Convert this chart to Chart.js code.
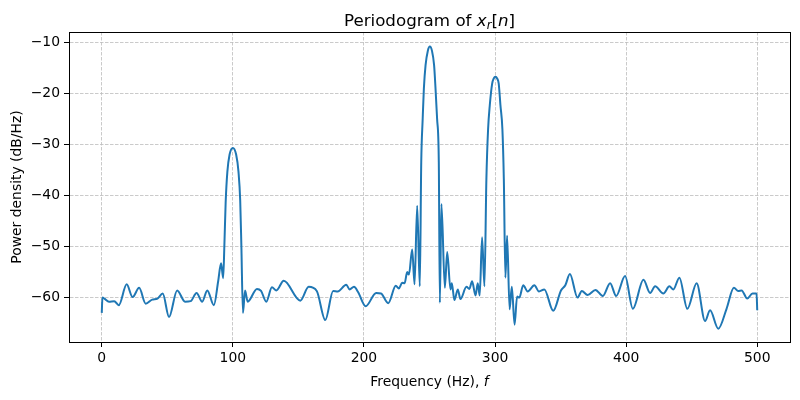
<!DOCTYPE html>
<html>
<head>
<meta charset="utf-8">
<script src="https://cdn.jsdelivr.net/npm/chart.js@4"></script>
<style>
  html, body { margin: 0; padding: 0; background: #fff; }
  #wrap { width: 800px; height: 400px; }
</style>
</head>
<body>
<div id="wrap"><canvas id="psdChart" width="800" height="400"></canvas></div>
<script>
// frequency (Hz) and power density (dB/Hz)
var freqs = [0, 0.5, 2, 5.5, 9.5, 13, 19, 23.5, 28.5, 33.5, 38.5, 42.5, 46.5, 51.3, 57.5, 63.5, 67.8, 72.3, 76.6, 80.5,
    85.5, 88.8, 91.0, 92.6, 93.5, 94.5, 95.8, 97.5, 100, 102.5, 104.3, 105.6, 106.5, 107.7, 109.3, 111.3, 118.4, 121.5, 125.5, 129.8,
    133.2, 138.8, 151.5, 157.8, 164, 170.5, 176.5, 180, 186.5, 189.1, 192.4, 195.5, 201.3, 209.3, 213, 218.5, 224.3, 226.6, 229.2, 231,
    233, 234.3, 236.8, 238.6, 240.6, 242.6, 243.7, 244.8, 245.7, 247, 248.7, 250.3, 251.9, 253.5, 254.6, 255.8, 257.1, 257.9, 259.1, 261.7,
    263.5, 266, 267, 269, 271.6, 273.6, 278.2, 280.4, 282.5, 285.1, 286.8, 288.3, 290.1, 291.9, 293.4, 294.7, 296, 297.8, 299, 300.3,
    301.6, 302.8, 304.1, 305.6, 306.7, 307.9, 309.2, 311.1, 312.8, 314.9, 316.8, 318.5, 321.5, 324.9, 330, 333.5, 337.6, 344.4, 350.3, 353.6,
    357.1, 362.9, 366.2, 370.6, 376.6, 382.2, 387.8, 392.4, 399.2, 405.1, 413.2, 418.3, 422.1, 428.4, 433, 436, 440.6, 446.7, 453.8, 460.2,
    464, 470.3, 476.6, 482.2, 485.5, 488.1, 492.4, 496.4, 499.5, 500];
var power = [-63.0, -60.0, -60.2, -60.8, -60.7, -61.5, -57.4, -59.9, -58.1, -61.2, -60.4, -60.2, -59.2, -63.8, -58.6, -60.8, -60.7, -59.1, -60.8, -58.6,
    -61.5, -56.8, -53.3, -56.2, -50, -41.4, -35.4, -32.0, -30.7, -32.0, -35.4, -41, -50, -63.0, -58.6, -60.8, -58.3, -58.7, -60.8, -58.0,
    -58.6, -56.7, -60.6, -57.9, -58.7, -64.4, -58.7, -58.8, -57.5, -58.4, -57.9, -58.9, -61.7, -59.1, -59.2, -61.1, -57.7, -58.2, -57.1, -57.2,
    -55.0, -55.5, -50.6, -57.4, -42.0, -57.8, -33.5, -25.0, -19.1, -14.5, -11.7, -10.85, -11.7, -14.5, -19.1, -25.0, -33.5, -61.0, -41.7, -58.1,
    -51.1, -58.4, -57.2, -60.5, -58.4, -60.3, -57.9, -58.3, -56.8, -59.6, -57.2, -59.6, -48.2, -57.8, -36.8, -27.0, -22.3, -18.1, -17.1, -16.75,
    -17.1, -18.1, -22.3, -27.0, -36.8, -56.1, -47.9, -62.3, -57.9, -65.3, -59.8, -60.0, -57.6, -58.8, -57.6, -58.8, -58.4, -62.6, -58.6, -57.6,
    -55.4, -60.0, -58.7, -59.5, -58.5, -59.7, -57.2, -59.7, -55.8, -62.2, -56.5, -59.1, -57.8, -59.2, -57.8, -58.4, -56.1, -62.2, -57.2, -64.6,
    -62.5, -66.1, -62.2, -58.1, -58.7, -58.6, -60.2, -59.2, -59.2, -62.5];
var xTicks = [0, 100, 200, 300, 400, 500];
var yTicks = [-60, -50, -40, -30, -20, -10];

var points = freqs.map(function (f, i) { return { x: f, y: power[i] }; });

// title, axis labels (with italic math parts) and the full axes frame
var textPlugin = {
    id: 'mplText',
    afterDraw: function (chart) {
        var c = chart.ctx, a = chart.chartArea;
        c.save();
        c.strokeStyle = '#000';
        c.lineWidth = 1;
        c.strokeRect(Math.round(a.left) + 0.5, Math.round(a.top) + 0.5, Math.round(a.right - a.left), Math.round(a.bottom - a.top));

        c.fillStyle = '#000';
        c.textBaseline = 'alphabetic';
        // title: Periodogram of x_r[n]
        var parts = [
            { t: 'Periodogram of ', f: '16.7px "DejaVu Sans"', dy: 0 },
            { t: 'x', f: 'italic 16.7px "DejaVu Sans"', dy: 0 },
            { t: 'r', f: 'italic 11.7px "DejaVu Sans"', dy: 3 },
            { t: '[', f: '16.7px "DejaVu Sans"', dy: 0 },
            { t: 'n', f: 'italic 16.7px "DejaVu Sans"', dy: 0 },
            { t: ']', f: '16.7px "DejaVu Sans"', dy: 0 }
        ];
        var total = 0;
        parts.forEach(function (p) { c.font = p.f; p.w = c.measureText(p.t).width; total += p.w; });
        var x = (a.left + a.right) / 2 - total / 2, base = 26;
        c.textAlign = 'left';
        parts.forEach(function (p) { c.font = p.f; c.fillText(p.t, x, base + p.dy); x += p.w; });

        // x label: Frequency (Hz), f
        var xl = [
            { t: 'Frequency (Hz), ', f: '13.9px "DejaVu Sans"' },
            { t: 'f', f: 'italic 13.9px "DejaVu Sans"' }
        ];
        total = 0;
        xl.forEach(function (p) { c.font = p.f; p.w = c.measureText(p.t).width; total += p.w; });
        x = (a.left + a.right) / 2 - total / 2;
        xl.forEach(function (p) { c.font = p.f; c.fillText(p.t, x, 386); x += p.w; });

        // y label
        c.translate(21, (a.top + a.bottom) / 2);
        c.rotate(-Math.PI / 2);
        c.font = '13.9px "DejaVu Sans"';
        c.textAlign = 'center';
        c.fillText('Power density (dB/Hz)', 0, 0);
        c.restore();
    }
};

var ctx = document.getElementById('psdChart').getContext('2d');
var psdChart = new Chart(ctx, {
    type: 'line',
    data: {
        datasets: [{
            data: points,
            borderColor: '#1f77b4',
            borderWidth: 2,
            pointRadius: 0,
            cubicInterpolationMode: 'monotone',
            fill: false
        }]
    },
    options: {
        responsive: false,
        animation: false,
        layout: { padding: { top: 32, right: 10, left: 0, bottom: 0 } },
        plugins: { legend: { display: false }, tooltip: { enabled: false }, title: { display: false } },
        scales: {
            x: {
                type: 'linear',
                min: -25,
                max: 525,
                afterBuildTicks: function (s) { s.ticks = xTicks.map(function (v) { return { value: v }; }); },
                afterFit: function (s) { s.height = 58; },
                grid: { color: '#bcbcbc', lineWidth: 0.8, tickColor: '#000', tickLength: 5, tickWidth: 1 },
                border: { display: true, color: '#000', width: 1, dash: [3.5, 1.5] },
                ticks: {
                    color: '#000',
                    font: { family: 'DejaVu Sans', size: 13.9 },
                    padding: 3,
                    maxRotation: 0,
                    callback: function (v) { return String(v).replace('-', '\u2212'); }
                }
            },
            y: {
                type: 'linear',
                min: -68.7,
                max: -8.0,
                afterBuildTicks: function (s) { s.ticks = yTicks.map(function (v) { return { value: v }; }); },
                afterFit: function (s) { s.width = 69; },
                grid: { color: '#bcbcbc', lineWidth: 0.8, tickColor: '#000', tickLength: 5, tickWidth: 1 },
                border: { display: true, color: '#000', width: 1, dash: [3.5, 1.5] },
                ticks: {
                    color: '#000',
                    font: { family: 'DejaVu Sans', size: 13.9 },
                    padding: 4,
                    callback: function (v) { return String(v).replace('-', '\u2212'); }
                }
            }
        }
    },
    plugins: [textPlugin]
});
</script>
</body>
</html>
